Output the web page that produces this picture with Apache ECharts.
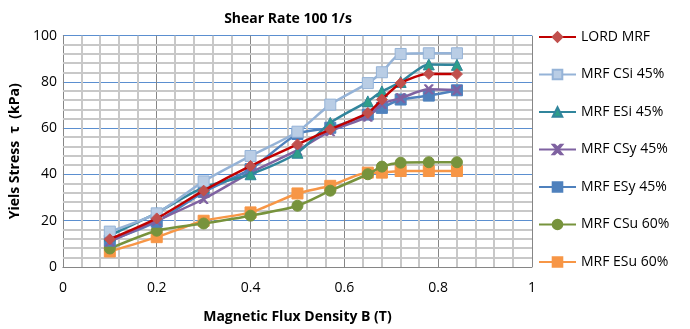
<!DOCTYPE html>
<html><head><meta charset="utf-8">
<script src="https://cdn.jsdelivr.net/npm/echarts@6/dist/echarts.min.js"></script>
<style>html,body{margin:0;padding:0;background:#fff}#c{width:690px;height:329px}</style>
</head><body><div id="c"></div>
<script>
const xValues = [0.1, 0.2, 0.3, 0.4, 0.5, 0.57, 0.65, 0.68, 0.72, 0.78, 0.84];
const seriesNames = ['LORD MRF','MRF CSi 45%','MRF ESi 45%','MRF CSy 45%','MRF ESy 45%','MRF CSu 60%','MRF ESu 60%'];
const lordMRF = [12, 21, 33, 43.7, 53, 59.5, 66.6, 72.4, 79.5, 83.5, 83.4];
const csi45   = [15.3, 23.2, 37, 48, 58.5, 70.2, 79.5, 84.2, 92.1, 92.4, 92.4];
const esi45   = [13.6, 23.4, 34.4, 40.1, 49.4, 62.3, 71.6, 75.9, 80, 87.6, 87.4];
const csy45   = [11, 20, 29.4, 40.8, 50.5, 58.7, 65, 70.5, 73, 76.8, 76.5];
const esy45   = [11.4, 19.6, 32.4, 42.3, 57.5, 60.2, 65.9, 68.8, 72.4, 74.1, 76.4];
const csu60   = [8, 15.7, 18.8, 22.2, 26.5, 33, 40.1, 43.4, 45.1, 45.3, 45.3];
const esu60   = [6.7, 12.9, 20, 23.6, 31.8, 35.1, 40.8, 40.8, 41.5, 41.5, 41.5];
const xTicks = [0, 0.2, 0.4, 0.6, 0.8, 1];
const yTicks = [0, 20, 40, 60, 80, 100];
const xMinorTicks = [0.04,0.08,0.12,0.16, 0.24,0.28,0.32,0.36, 0.44,0.48,0.52,0.56, 0.64,0.68,0.72,0.76, 0.84,0.88,0.92,0.96];
const yMinorTicks = [4,8,12,16, 24,28,32,36, 44,48,52,56, 64,68,72,76, 84,88,92,96];

const allData = [lordMRF, csi45, esi45, csy45, esy45, csu60, esu60];
const styles = [
  {line:'#c00000', fill:'#c0504d', border:'#c0504d', symbol:'diamond', size:11},
  {line:'#95b3d7', fill:'#b9cde5', border:'#95b3d7', symbol:'rect', size:11},
  {line:'#31859c', fill:'#2e9e8a', border:'#31859c', symbol:'triangle', size:11},
  {line:'#7f62a1', fill:'#7f62a1', border:'#7f62a1', symbol:'path://M0,0 L2,0 L5,3 L8,0 L10,0 L6,5 L10,10 L8,10 L5,7 L2,10 L0,10 L4,5 Z', size:9},
  {line:'#4f81bd', fill:'#4f81bd', border:'#4f81bd', symbol:'rect', size:11},
  {line:'#77933c', fill:'#77933c', border:'#77933c', symbol:'circle', size:11},
  {line:'#f79646', fill:'#f79646', border:'#f79646', symbol:'rect', size:11}
];
const FONT = 'Open Sans';
const series = [
  {name:'vMinor', type:'custom', silent:true, z:1, data: xMinorTicks.map(v=>[v, 50]),
   encode:{x:0, y:1},
   renderItem:(p, api)=>{
     const a=api.coord([api.value(0), 0]), b=api.coord([api.value(0), 100]);
     return {type:'rect', shape:{x:Math.round(a[0])-1, y:b[1], width:2, height:a[1]-b[1]}, style:{fill:'#c8c8c8'}};
   }},
  {name:'hMinor', type:'custom', silent:true, z:1, data: yMinorTicks.map(v=>[0.5, v]),
   encode:{x:0, y:1},
   renderItem:(p, api)=>{
     const a=api.coord([0, api.value(1)]), b=api.coord([1, api.value(1)]);
     return {type:'rect', shape:{x:a[0], y:Math.round(a[1])-1, width:b[0]-a[0], height:2}, style:{fill:'#c8c8c8'}};
   }}
].concat(seriesNames.map((n,i)=>({
  name:n, type:'line', smooth:0.25,
  data: xValues.map((x,j)=>[x, allData[i][j]]),
  symbol: styles[i].symbol, symbolSize: styles[i].size,
  lineStyle:{color:styles[i].line, width:2.5},
  itemStyle:{color:styles[i].fill, borderColor:styles[i].border, borderWidth:1},
  z: 10 - i
})));
const fmt = ticks => v => { const t = ticks.find(k=>Math.abs(k-v)<1e-9); return t===undefined?'':String(t); };

const chart = echarts.init(document.getElementById('c'), null, {renderer:'canvas'});
chart.setOption({
  animation:false,
  backgroundColor:'#fff',
  title:{text:'Shear Rate 100 1/s', left:283, top:7, textAlign:'center',
    textStyle:{fontFamily:FONT, fontSize:14, fontWeight:'bold', color:'#000'}},
  grid:{left:62, right:158, top:35.7, bottom:60.7},
  legend:{
    orient:'vertical', left:533, top:25, itemWidth:37, itemHeight:12, itemGap:23.5,
    textStyle:{fontFamily:FONT, fontSize:14, color:'#000'},
    data: seriesNames
  },
  xAxis:{
    type:'value', min:0, max:1, interval:0.2,
    name:'Magnetic Flux Density B (T)', nameLocation:'middle', nameGap:43,
    nameTextStyle:{fontFamily:FONT, fontSize:14, fontWeight:'bold', color:'#000'},
    axisLine:{show:true, lineStyle:{color:'#868686'}},
    axisTick:{show:false},
    axisLabel:{fontFamily:FONT, fontSize:14, color:'#000', margin:14, formatter:fmt(xTicks)},
    splitLine:{show:true, lineStyle:{color:'#868686', width:1}}
  },
  yAxis:{
    type:'value', min:0, max:100, interval:20,
    name:'Yiels Stress  τ  (kPa)', nameLocation:'middle', nameGap:35, nameRotate:90,
    nameTextStyle:{fontFamily:FONT, fontSize:14, fontWeight:'bold', color:'#000'},
    axisLine:{show:true, lineStyle:{color:'#868686'}},
    axisTick:{show:false},
    axisLabel:{fontFamily:FONT, fontSize:14, color:'#000', margin:6, formatter:fmt(yTicks)},
    splitLine:{show:true, lineStyle:{color:'#5b8fd0', width:1.2}}
  },
  series: series
});
</script></body></html>
